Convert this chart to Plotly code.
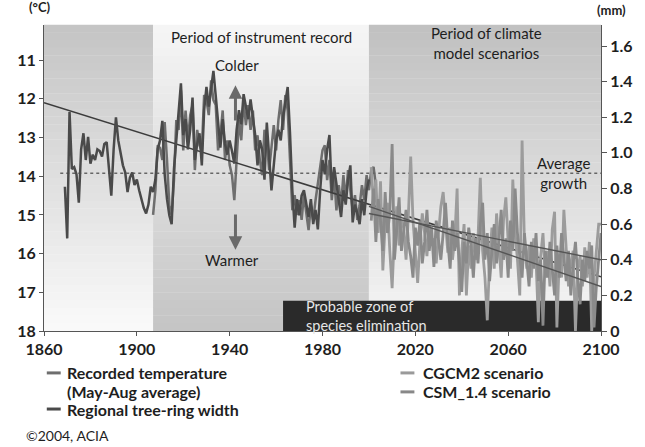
import plotly.graph_objects as go

# ---------------- data ----------------
ring_years = list(range(1869, 2001))
ring_mm = [0.81, 0.52, 1.23, 0.91, 0.92, 0.88, 0.72, 1.02, 1.11, 0.96,
           1.09, 0.94, 0.99, 0.96, 1.02, 1.01, 0.98, 1.05, 1.06, 0.91,
           0.76, 1.02, 1.20, 1.07, 1.00, 0.93, 0.89, 0.78, 0.86, 0.89,
           0.82, 0.85, 0.79, 0.74, 0.69, 0.66, 0.71, 0.81, 0.78, 0.85,
           1.02, 1.07, 1.18, 0.88, 0.74, 0.65, 0.60, 0.91, 1.07, 1.24,
           1.39, 1.10, 1.19, 1.02, 1.13, 1.31, 0.96, 1.05, 1.11, 0.93,
           1.24, 1.37, 1.26, 1.36, 1.46, 1.32, 1.16, 1.03, 1.19, 1.05,
           0.99, 1.07, 1.01, 0.94, 1.13, 1.24, 1.16, 1.33, 1.26, 1.19,
           1.30, 1.19, 1.10, 0.93, 1.07, 1.02, 0.85, 1.17, 1.00, 0.79,
           0.93, 1.07, 1.13, 1.07, 1.20, 1.30, 1.37, 1.11, 0.79, 0.58,
           0.74, 0.65, 0.76, 0.79, 0.71, 0.64, 0.74, 0.60, 0.68, 0.57,
           0.79, 0.96, 0.88, 1.02, 1.10, 0.78, 0.92, 0.82, 0.74, 0.64,
           0.79, 0.71, 0.85, 0.93, 0.61, 0.71, 0.66, 0.60, 0.74, 0.65,
           0.79, 0.85]

temp_years = list(range(1907, 2004))
temp_c = [15.00, 14.36, 13.20, 13.27, 13.58, 12.60, 13.58, 14.75, 15.00, 14.10,
          12.55, 12.80, 11.78, 13.33, 12.30, 13.07, 12.42, 12.16, 13.84, 12.80,
          13.20, 13.33, 11.90, 12.03, 12.42, 11.52, 12.03, 12.16, 13.33, 12.94,
          12.30, 13.58, 13.07, 13.71, 13.97, 14.62, 13.58, 12.55, 13.07, 12.03,
          12.68, 12.16, 12.80, 12.30, 13.33, 12.94, 13.58, 13.97, 12.80, 13.07,
          13.84, 13.33, 12.68, 13.33, 12.55, 12.03, 12.80, 11.90, 12.30, 13.58,
          14.88, 14.49, 15.00, 14.62, 15.13, 14.49, 15.00, 15.39, 14.75, 15.13,
          14.62, 14.23, 13.84, 13.33, 13.20, 14.10, 13.58, 14.62, 13.97, 14.88,
          14.23, 14.75, 13.97, 14.62, 13.84, 14.36, 14.88, 14.49, 15.13, 14.75,
          14.23, 14.62, 13.97, 14.36, 13.84, 13.76, 14.23]

scen_years = list(range(2001, 2101))
cgcm2_mm = [0.92, 0.70, 0.85, 0.55, 0.84, 0.34, 0.60, 0.72, 0.45, 0.24,
            0.55, 0.70, 0.48, 0.62, 0.58, 0.40, 0.65, 0.98, 0.62, 0.45,
            0.27, 0.50, 0.66, 0.55, 0.42, 0.60, 0.48, 0.52, 0.38, 0.55,
            0.70, 0.78, 0.62, 0.44, 0.58, 0.40, 0.52, 0.80, 0.20, 0.45,
            0.60, 0.20, 0.48, 0.35, 0.55, 0.40, 0.52, 0.86, 0.45, 0.30,
            0.06, 0.40, 0.58, 0.35, 0.66, 0.45, 0.30, 0.62, 0.75, 0.50,
            0.35, 0.85, 0.55, 0.40, 0.20, 1.07, 0.50, 0.35, 0.48, 0.30,
            0.52, 0.40, 0.05, 0.42, 0.55, 0.30, 0.45, 0.25, 0.57, 0.67,
            0.02, 0.40, 0.30, 0.68, 0.45, 0.25, 0.38, 0.45, 0.00, 0.35,
            0.42, 0.25, 0.47, 0.30, 0.50, 0.00, 0.30, 0.45, 0.60, 0.60]
csm_mm = [0.62, 0.80, 0.50, 0.74, 0.62, 0.45, 0.78, 0.55, 0.66, 1.05,
          0.40, 0.60, 0.75, 0.45, 0.55, 0.68, 0.50, 0.42, 0.30, 0.58,
          0.48, 0.62, 0.38, 0.50, 0.68, 0.45, 0.58, 0.36, 0.62, 0.50,
          0.40, 0.55, 0.72, 0.50, 0.35, 0.62, 0.45, 0.55, 0.40, 0.22,
          0.50, 0.38, 0.58, 0.48, 0.30, 0.52, 0.38, 0.60, 0.72, 0.40,
          0.55, 0.28, 0.45, 0.60, 0.38, 0.50, 0.68, 0.40, 0.52, 0.30,
          0.62, 0.45, 0.80, 0.55, 0.42, 0.30, 0.55, 0.40, 0.25, 0.50,
          0.35, 0.55, 0.28, 0.40, 0.03, 0.45, 0.30, 0.50, 0.35, 0.20,
          0.48, 0.30, 0.55, 0.40, 0.28, 0.45, 0.20, 0.38, 0.50, 0.30,
          0.15, 0.40, 0.28, 0.45, 0.35, 0.48, 0.02, 0.25, 0.40, 0.55]

trend_years = [1860, 2100]
trend_c = [12.1, 16.6]
cgcm2_trend_years = [2000, 2100]
cgcm2_trend_mm = [0.66, 0.40]
csm_trend_years = [2000, 2100]
csm_trend_mm = [0.70, 0.25]

average_growth_mm = 0.885
elimination_mm = 0.17
elimination_start = 1963
instrument_period = [1907, 2000]
model_period = [2000, 2100]

x_ticks = [1860, 1900, 1940, 1980, 2020, 2060, 2100]
c_ticks = [11, 12, 13, 14, 15, 16, 17, 18]
mm_ticks = [0, 0.2, 0.4, 0.6, 0.8, 1.0, 1.2, 1.4, 1.6]
mm_labels = ["0", "0.2", "0.4", "0.6", "0.8", "1.0", "1.2", "1.4", "1.6"]

FONT = "Lato"
TXT = "#1e1e1e"
AX = "#555555"

fig = go.Figure()

# ---------------- background gradients ----------------
def grad(x0, x1, top, bot, n=40):
    out = []
    for i in range(n):
        t = (i + 0.5) / n
        v = int(round(top + (bot - top) * t))
        out.append(dict(type="rect", xref="x", yref="paper", x0=x0, x1=x1,
                        y0=1 - (i + 1) / n, y1=1 - i / n + 0.001, layer="below",
                        line=dict(width=0), fillcolor=f"rgb({v},{v},{v})"))
    return out

shapes = []
shapes += grad(1860, instrument_period[0], 196, 250)
shapes += grad(instrument_period[0], instrument_period[1], 246, 196)
shapes += grad(model_period[0], model_period[1], 192, 246)
shapes.append(dict(type="rect", xref="x", yref="y2", x0=elimination_start, x1=2100,
                   y0=0, y1=elimination_mm, layer="below", line=dict(width=0),
                   fillcolor="#2a2a2a"))

# legend samples
def leg_line(x0, x1, y, color):
    return dict(type="line", xref="paper", yref="paper", x0=x0, x1=x1, y0=y, y1=y,
                line=dict(color=color, width=3))

shapes += [leg_line(0.005, 0.03, -0.137, "#6e6e6e"),
           leg_line(0.005, 0.03, -0.255, "#4a4a4a"),
           leg_line(0.64, 0.665, -0.137, "#9a9a9a"),
           leg_line(0.64, 0.665, -0.199, "#888888")]

# ---------------- traces ----------------
fig.add_trace(go.Scatter(x=[1867, 2100], y=[average_growth_mm] * 2, yaxis="y2",
                         mode="lines", line=dict(color="#666666", width=1.5, dash="3px,3px"),
                         hoverinfo="skip", showlegend=False))
fig.add_trace(go.Scatter(x=scen_years, y=cgcm2_mm, yaxis="y2", mode="lines",
                         line=dict(color="#9c9c9c", width=2.8), name="CGCM2 scenario",
                         showlegend=False))
fig.add_trace(go.Scatter(x=scen_years, y=csm_mm, yaxis="y2", mode="lines",
                         line=dict(color="#8a8a8a", width=2.8), name="CSM_1.4 scenario",
                         showlegend=False))
fig.add_trace(go.Scatter(x=temp_years, y=temp_c, yaxis="y", mode="lines",
                         line=dict(color="#6e6e6e", width=2.5), name="Recorded temperature",
                         showlegend=False))
fig.add_trace(go.Scatter(x=ring_years, y=ring_mm, yaxis="y2", mode="lines",
                         line=dict(color="#4a4a4a", width=2.5), name="Regional tree-ring width",
                         showlegend=False))
fig.add_trace(go.Scatter(x=trend_years, y=trend_c, yaxis="y", mode="lines",
                         line=dict(color="#3c3c3c", width=1.6), hoverinfo="skip",
                         showlegend=False))
fig.add_trace(go.Scatter(x=cgcm2_trend_years, y=cgcm2_trend_mm, yaxis="y2", mode="lines",
                         line=dict(color="#555555", width=1.4), hoverinfo="skip",
                         showlegend=False))
fig.add_trace(go.Scatter(x=csm_trend_years, y=csm_trend_mm, yaxis="y2", mode="lines",
                         line=dict(color="#555555", width=1.4), hoverinfo="skip",
                         showlegend=False))

# ---------------- annotations ----------------
ann = []
def txt(x, y, text, xref="x", yref="y", size=15, color=TXT, bold=False,
        xanchor="center", yanchor="middle", align="center"):
    ann.append(dict(x=x, y=y, xref=xref, yref=yref, text=(f"<b>{text}</b>" if bold else text),
                    showarrow=False, xanchor=xanchor, yanchor=yanchor, align=align,
                    font=dict(family=FONT, size=size, color=color)))

txt(-0.008, 1.06, "(°C)", xref="paper", yref="paper", size=13, bold=True)
txt(1.018, 1.05, "(mm)", xref="paper", yref="paper", size=13, bold=True)
txt(1953.7, 0.961, "Period of instrument record", yref="paper", size=15)
txt(2050.5, 0.94, "Period of climate<br>model scenarios", yref="paper", size=15)
txt(1943, 11.13, "Colder", size=15)
txt(1941.2, 16.17, "Warmer", size=15)
txt(2084, average_growth_mm, "Average<br>growth", yref="y2", size=15)
txt(1972, 0.085, "Probable zone of<br>species elimination", yref="y2", size=14.5,
    color="#e6e6e6", xanchor="left", align="left")

# legend texts
txt(0.037, -0.137, "Recorded temperature", xref="paper", yref="paper", size=16, bold=True, xanchor="left")
txt(0.037, -0.199, "(May-Aug average)", xref="paper", yref="paper", size=16, bold=True, xanchor="left")
txt(0.037, -0.255, "Regional tree-ring width", xref="paper", yref="paper", size=16, bold=True, xanchor="left")
txt(0.677, -0.137, "CGCM2 scenario", xref="paper", yref="paper", size=16, bold=True, xanchor="left")
txt(0.677, -0.199, "CSM_1.4 scenario", xref="paper", yref="paper", size=16, bold=True, xanchor="left")
txt(-0.036, -0.343, "©2004, ACIA", xref="paper", yref="paper", size=14, xanchor="left")

# arrows
for (x, yh, yt) in [(1942.5, 11.65, 12.6), (1942.5, 15.9, 14.95)]:
    ann.append(dict(x=x, y=yh, ax=x, ay=yt, xref="x", yref="y", axref="x", ayref="y",
                    text="", showarrow=True, arrowhead=2, arrowsize=0.9, arrowwidth=3,
                    arrowcolor="#6a6a6a"))

tickfont = dict(family=FONT, size=16, color=TXT)
fig.update_layout(
    width=645, height=447,
    margin=dict(l=43.5, r=41.5, t=25, b=116),
    paper_bgcolor="white", plot_bgcolor="white",
    shapes=shapes, annotations=ann,
    xaxis=dict(range=[1860, 2100], tickvals=x_ticks, ticktext=[f"<b>{v}</b>" for v in x_ticks],
               ticks="outside", ticklen=4, tickcolor=AX, showline=True, linecolor=AX,
               linewidth=1, showgrid=False, zeroline=False, tickfont=tickfont),
    yaxis=dict(range=[18, 10.09], tickvals=c_ticks, ticktext=[f"<b>{v}</b>" for v in c_ticks],
               ticks="outside", ticklen=4, tickcolor=AX, showline=True, linecolor=AX,
               linewidth=1, showgrid=False, zeroline=False, tickfont=tickfont),
    yaxis2=dict(range=[0, 1.718], overlaying="y", side="right", tickvals=mm_ticks,
                ticktext=[f"<b>{v}</b>" for v in mm_labels], ticks="outside", ticklen=5,
                tickcolor=AX, showline=True, linecolor=AX, linewidth=1, showgrid=False,
                zeroline=False, tickfont=tickfont),
)

fig.write_html("out.html")
